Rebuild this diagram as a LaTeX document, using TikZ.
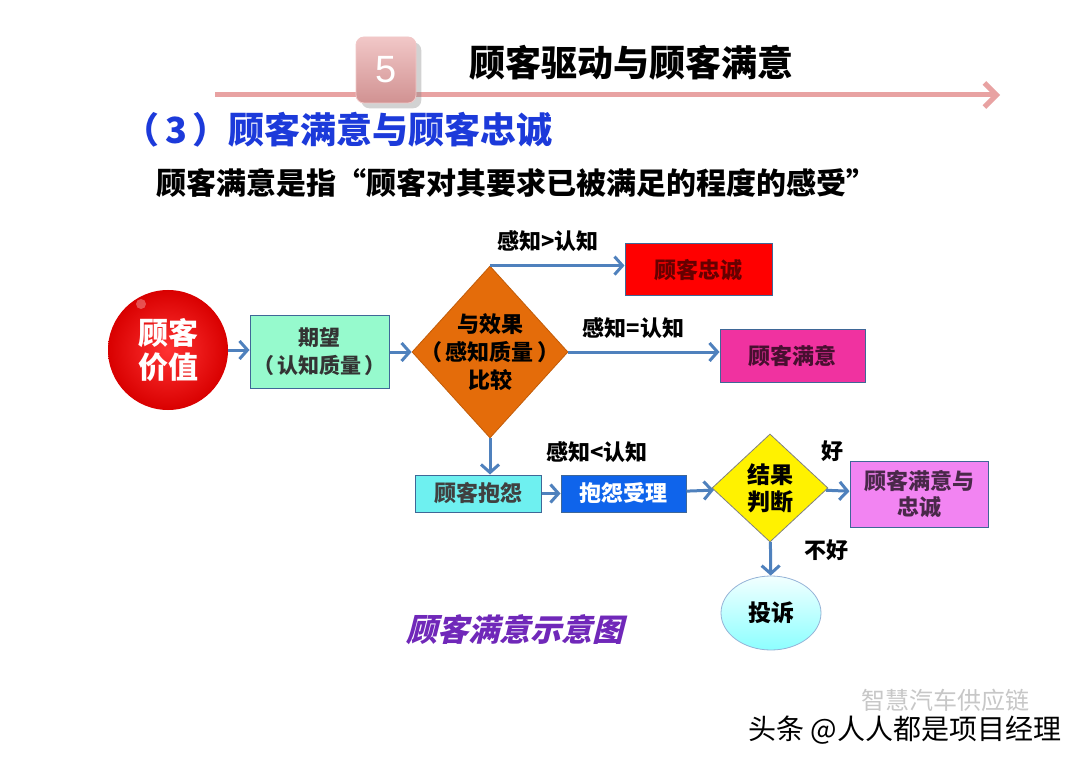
\documentclass[tikz,border=0pt]{standalone}
\usepackage{fontspec}
\setmainfont{Liberation Sans}
\newfontfamily\cjk{Noto Sans CJK SC}
\newfontfamily\cjkslant{Noto Sans CJK SC}[FakeSlant=0.25]
\usetikzlibrary{arrows.meta,shapes.geometric,positioning,shadows}

\definecolor{flowblue}{RGB}{79,129,189}
\definecolor{rulepink}{RGB}{232,162,162}
\definecolor{subblue}{RGB}{28,58,218}
\definecolor{mint}{RGB}{150,250,205}
\definecolor{deeporange}{RGB}{228,108,10}
\definecolor{hotpink}{RGB}{240,50,160}
\definecolor{aqua}{RGB}{110,240,240}
\definecolor{royal}{RGB}{15,100,235}
\definecolor{violet}{RGB}{242,132,242}
\definecolor{titlepurple}{RGB}{112,40,185}

\begin{document}
\begin{tikzpicture}[x=0.5pt,y=-0.5pt,
  font=\cjk\bfseries,
  flow/.style={draw=flowblue,line width=1.5pt,-{Straight Barb[length=4pt,width=9pt]}},
  main box/.style={rectangle,draw=flowblue!80!black,line width=0.5pt,align=center,
    inner sep=1pt,font=\cjk\bfseries\fontsize{11}{14}\selectfont},
  lbl/.style={font=\cjk\bfseries\fontsize{11}{13}\selectfont,inner sep=1pt}]
  \useasboundingbox (0,0) rectangle (1080,764);
  \fill[white] (0,0) rectangle (1080,764);

  % header
  \coordinate (rule start) at (215,95);
  \coordinate (rule end) at (1000,95);
  \draw[rulepink,line width=2.5pt,-{Straight Barb[length=6pt,width=12pt]}] (rule start) -- (rule end);
  \node[rectangle,rounded corners=4pt,minimum width=30pt,minimum height=33pt,
    top color=rulepink!60!white,bottom color=rulepink!90!black,draw=rulepink!60!white,
    drop shadow={opacity=0.35},text=white,font=\fontsize{19}{19}\selectfont] (num) at (386,70) {5};
  \node[font=\cjk\bfseries\fontsize{18}{18}\selectfont] (title) at (631,63) {顾客驱动与顾客满意};
  \node[text=subblue,font=\cjk\bfseries\fontsize{18}{18}\selectfont] (subtitle) at (338,130) {（\,3\,）顾客满意与顾客忠诚};
  \node[font=\cjk\bfseries\fontsize{15}{15}\selectfont] (define) at (516,183) {顾客满意是指“顾客对其要求已被满足的程度的感受”};

  % diagram
  \node[circle,minimum size=60pt,inner sep=0pt,inner color=red!80!white,outer color=red!85!black,
    text=white,align=center,font=\cjk\bfseries\fontsize{15}{17}\selectfont] (value) at (168,350) {顾客\\价值};
  \fill[white,opacity=0.3] (141,304) circle (2.5pt);
  \node[main box,fill=mint,minimum width=69.5pt,minimum height=36.5pt,text=black!80,
    font=\cjk\bfseries\fontsize{10.5}{14}\selectfont] (expect) at (319.5,352) {期望\\（\,认知质量\,）};
  \node[diamond,fill=deeporange,draw=deeporange!85!black,minimum width=78pt,minimum height=86pt,inner sep=0pt,
    label={[align=center,font=\cjk\bfseries\fontsize{11}{14}\selectfont]center:与效果\\（\,感知质量\,）\\比较}] (cmp) at (490,352) {};
  \node[main box,fill=red,minimum width=73.5pt,minimum height=26pt,text=red!40!black] (loyal) at (698.5,270) {顾客忠诚};
  \node[main box,fill=hotpink,minimum width=72.5pt,minimum height=26pt,text=hotpink!30!black] (satisfied) at (792.5,356) {顾客满意};
  \node[main box,fill=aqua,minimum width=63pt,minimum height=18.5pt,text=black!75] (complain) at (478,493.5) {顾客抱怨};
  \node[main box,fill=royal,minimum width=62.5pt,minimum height=18.5pt,text=white,right=9.5pt of complain] (accept) {抱怨受理};
  \node[diamond,fill=yellow,draw=gray,minimum width=58pt,minimum height=54pt,inner sep=0pt,
    label={[align=center,font=\cjk\bfseries\fontsize{11.5}{13.5}\selectfont]center:结果\\判断}] (judge) at (770,488) {};
  \node[main box,fill=violet,minimum width=69pt,minimum height=33pt,text=violet!30!black,
    font=\cjk\bfseries\fontsize{11}{13}\selectfont] (both) at (919,494) {顾客满意与\\忠诚};
  \node[ellipse,minimum width=50pt,minimum height=37pt,inner sep=0pt,draw=flowblue!60,
    top color=cyan!5!white,bottom color=cyan!45!white,font=\cjk\bfseries\fontsize{11.5}{13}\selectfont] (complaint) at (771,613) {投诉};

  \draw[flow] (value) -- (value -| expect.west);
  \draw[flow] (expect) -- (cmp);
  \draw[flow] (cmp.north) -- node[lbl,above=5pt,pos=0.43] {感知>认知} (cmp.north -| loyal.west);
  \draw[flow] (cmp.east) -- node[lbl,above=5pt,pos=0.43] {感知=认知} (cmp.east -| satisfied.west);
  \draw[flow] (cmp.south) -- (cmp.south |- complain.north);
  \path[flow]
  (complain) edge (accept)
  (accept) edge (judge)
  (judge) edge (both)
    edge (complaint);
  \node[lbl] (less) at (597,452) {感知<认知};
  \node[lbl] (good) at (832,451) {好};
  \node[lbl] (bad) at (826,550) {不好};

  \node[text=titlepurple,font=\cjkslant\bfseries\fontsize{15.5}{15.5}\selectfont] (caption) at (515,630) {顾客满意示意图};

  % watermark
  \node[text=black!22,font=\cjk\fontsize{12}{12}\selectfont] (mark) at (945,700) {智慧汽车供应链};
  \node[font=\cjk\fontsize{14}{14}\selectfont] (source) at (905,730) {头条 @人人都是项目经理};
\end{tikzpicture}
\end{document}
